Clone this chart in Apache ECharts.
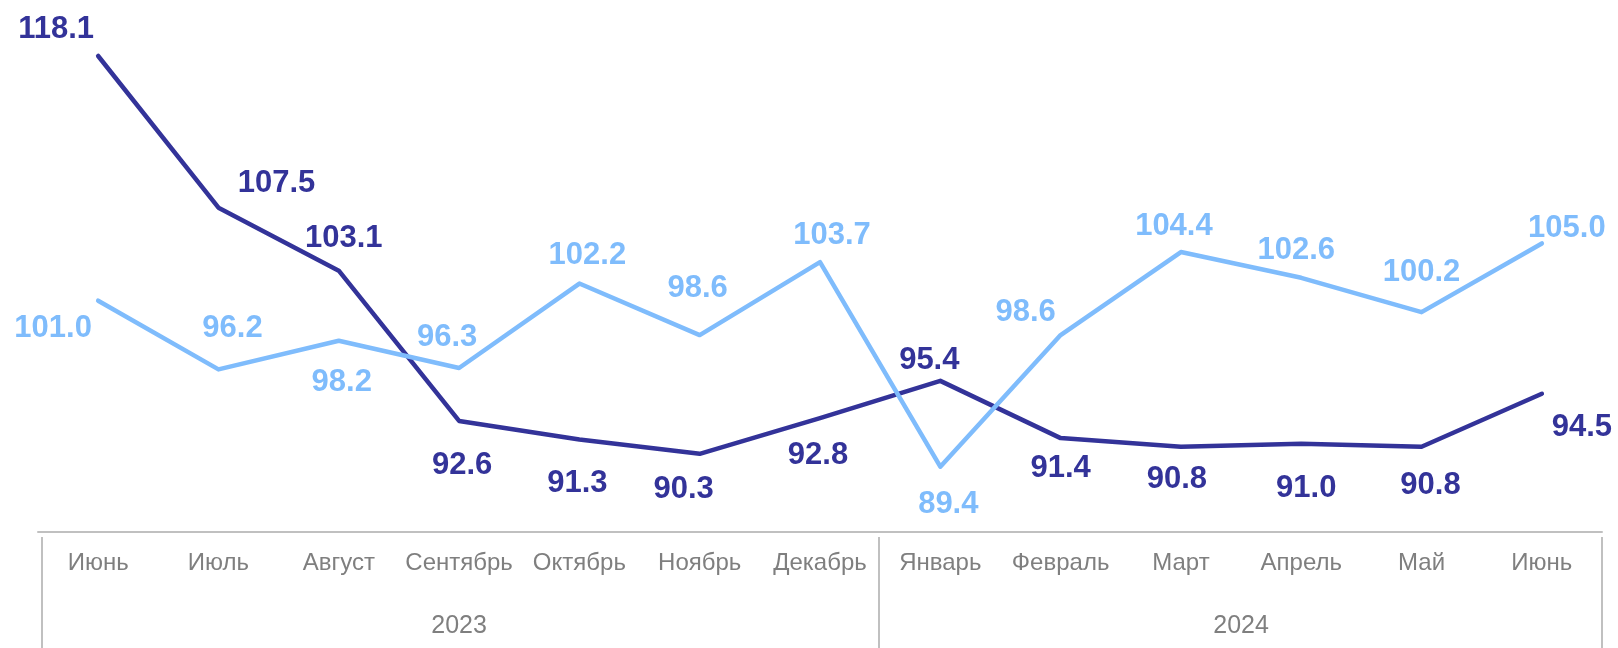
<!DOCTYPE html>
<html>
<head>
<meta charset="utf-8">
<script src="https://cdn.jsdelivr.net/npm/echarts@6/dist/echarts.min.js"></script>
<style>
  html, body { margin: 0; padding: 0; background: #fff; }
  #chart { width: 1618px; height: 648px; }
</style>
</head>
<body>
<div id="chart"></div>
<script>
// данные
const months = ['Июнь', 'Июль', 'Август', 'Сентябрь', 'Октябрь', 'Ноябрь', 'Декабрь',
  'Январь', 'Февраль', 'Март', 'Апрель', 'Май', 'Июнь']
const years = ['2023', '2024']
const darkValues = [118.1, 107.5, 103.1, 92.6, 91.3, 90.3, 92.8, 95.4, 91.4, 90.8, 91.0, 90.8, 94.5]
const lightValues = [101.0, 96.2, 98.2, 96.3, 102.2, 98.6, 103.7, 89.4, 98.6, 104.4, 102.6, 100.2, 105.0]

// сдвиги подписей относительно точек
const darkOffsets = [[-42, -27], [58, -24], [5, -32], [3, 45], [-2, 44], [-16, 36], [-2, 37],
  [-11, -20], [0, 30], [-4, 33], [5, 45], [9, 39], [40, 34]]
const lightOffsets = [[-45, 28], [14, -41], [3, 42], [-12, -31], [8, -28], [-2, -47], [12, -27],
  [8, 38], [-35, -23], [-7, -26], [-5, -27], [0, -40], [25, -15]]

const DARK = '#333399'
const LIGHT = '#7fbcfc'
const GRAY = '#7f7f7f'
const LINE_GRAY = '#c0c0c0'
const FONT = 'Liberation Sans, Arial, sans-serif'

function buildData(values, offsets) {
  return values.map((v, i) => ({
    value: v,
    label: { offset: offsets[i] }
  }))
}

function lineSeries(name, values, offsets, color) {
  return {
    name: name,
    type: 'line',
    xAxisIndex: 0,
    data: buildData(values, offsets),
    symbol: 'circle',
    symbolSize: 1,
    showSymbol: true,
    lineStyle: { color: color, width: 4.5, cap: 'round', join: 'round' },
    itemStyle: { color: color },
    label: {
      show: true,
      position: 'inside',
      align: 'center',
      verticalAlign: 'middle',
      color: color,
      fontFamily: FONT,
      fontWeight: 'bold',
      fontSize: 31,
      formatter: p => p.value.toFixed(1)
    },
    emphasis: { disabled: true },
    animation: false
  }
}

const chart = echarts.init(document.getElementById('chart'), null, { renderer: 'canvas' })
chart.setOption({
  animation: false,
  backgroundColor: '#fff',
  grid: {
    left: 38,
    right: 16,
    top: 28.8,
    bottom: 118.3,
    outerBoundsMode: 'none',
    containLabel: false
  },
  xAxis: [
    {
      type: 'category',
      data: months,
      boundaryGap: true,
      position: 'bottom',
      offset: 2,
      axisLine: { show: true, onZero: false, lineStyle: { color: LINE_GRAY, width: 2 } },
      axisTick: { show: false },
      axisLabel: {
        interval: 0,
        color: GRAY,
        fontFamily: FONT,
        fontSize: 24,
        margin: 20
      },
      splitLine: { show: false }
    },
    {
      type: 'value',
      min: -0.5,
      max: 12.5,
      position: 'bottom',
      offset: 7.3,
      axisLine: { show: false },
      axisTick: {
        show: true,
        customValues: [-0.47, 6.49, 12.5],
        length: 112,
        lineStyle: { color: LINE_GRAY, width: 2 }
      },
      axisLabel: {
        show: true,
        customValues: [3, 9.5],
        formatter: v => (v < 6.5 ? years[0] : years[1]),
        color: GRAY,
        fontFamily: FONT,
        fontSize: 25,
        margin: 77
      },
      splitLine: { show: false }
    }
  ],
  yAxis: {
    type: 'value',
    min: 85,
    max: 120,
    axisLine: { show: false },
    axisTick: { show: false },
    axisLabel: { show: false },
    splitLine: { show: false }
  },
  series: [
    lineSeries('Серия 1', darkValues, darkOffsets, DARK),
    lineSeries('Серия 2', lightValues, lightOffsets, LIGHT)
  ]
})
</script>
</body>
</html>
